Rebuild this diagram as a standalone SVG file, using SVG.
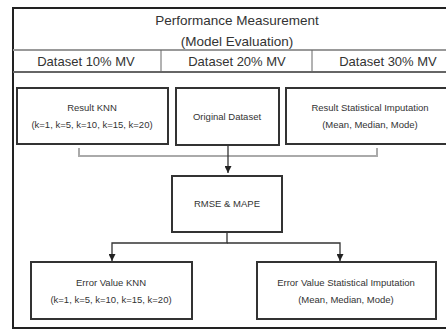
<svg xmlns="http://www.w3.org/2000/svg" width="446" height="330" viewBox="0 0 446 330">
<defs>
<style>
.t{font-family:"Liberation Sans",Arial,sans-serif;fill:#333;text-anchor:middle}
.h{font-size:13.5px}
.d{font-size:13px}
.s{font-size:9.5px}
.box{fill:#fff;stroke:#333;stroke-width:2}
.c{fill:none;stroke:#333;stroke-width:1.3}
.br{fill:none;stroke:#aaa;stroke-width:2}
</style>
<marker id="ah" viewBox="0 0 8 8" refX="8" refY="4" markerWidth="7" markerHeight="7" markerUnits="userSpaceOnUse" orient="auto">
<path d="M0,0 L8,4 L0,8 Z" fill="#222"/>
</marker>
</defs>
<rect x="0" y="0" width="446" height="330" fill="#fff"/>
<g id="frame">
<rect x="13" y="8" width="450" height="320" fill="#fff" stroke="#222" stroke-width="2"/>
<line x1="13" y1="50" x2="446" y2="50" stroke="#999" stroke-width="1.8"/>
<line x1="13" y1="72" x2="446" y2="72" stroke="#666" stroke-width="2"/>
<line x1="161" y1="50" x2="161" y2="72" stroke="#666" stroke-width="1"/>
<line x1="312" y1="50" x2="312" y2="72" stroke="#666" stroke-width="1"/>
<text class="t h" x="237" y="25">Performance Measurement</text>
<text class="t h" x="237" y="46">(Model Evaluation)</text>
<text class="t d" x="86" y="65.5">Dataset 10% MV</text>
<text class="t d" x="237" y="65.5">Dataset 20% MV</text>
<text class="t d" x="388" y="65.5">Dataset 30% MV</text>
</g>
<g id="connectors">
<path class="br" d="M79,148 V156 H377 V148"/>
<path class="c" d="M228,145 V173" marker-end="url(#ah)"/>
<path class="c" d="M227,233 V243 H112 V261" marker-end="url(#ah)"/>
<path class="c" d="M227,243 H340 V261" marker-end="url(#ah)"/>
</g>
<g id="result-knn">
<rect class="box" x="17" y="88" width="151" height="56"/>
<text class="t s" x="92" y="111">Result KNN</text>
<text class="t s" x="92" y="128">(k=1, k=5, k=10, k=15, k=20)</text>
</g>
<g id="original-dataset">
<rect class="box" x="176" y="88" width="103" height="57"/>
<text class="t s" x="227" y="120">Original Dataset</text>
</g>
<g id="result-stat">
<rect class="box" x="286" y="88" width="180" height="56"/>
<text class="t s" x="370" y="111">Result Statistical Imputation</text>
<text class="t s" x="370" y="128">(Mean, Median, Mode)</text>
</g>
<g id="rmse-mape">
<rect class="box" x="172" y="176" width="110" height="56"/>
<text class="t s" x="227" y="207">RMSE &amp; MAPE</text>
</g>
<g id="error-knn">
<rect class="box" x="31" y="262" width="161" height="57"/>
<text class="t s" x="111" y="286">Error Value KNN</text>
<text class="t s" x="111" y="303">(k=1, k=5, k=10, k=15, k=20)</text>
</g>
<g id="error-stat">
<rect class="box" x="257" y="262" width="179" height="57"/>
<text class="t s" x="346" y="286">Error Value Statistical Imputation</text>
<text class="t s" x="346" y="303">(Mean, Median, Mode)</text>
</g>
</svg>
